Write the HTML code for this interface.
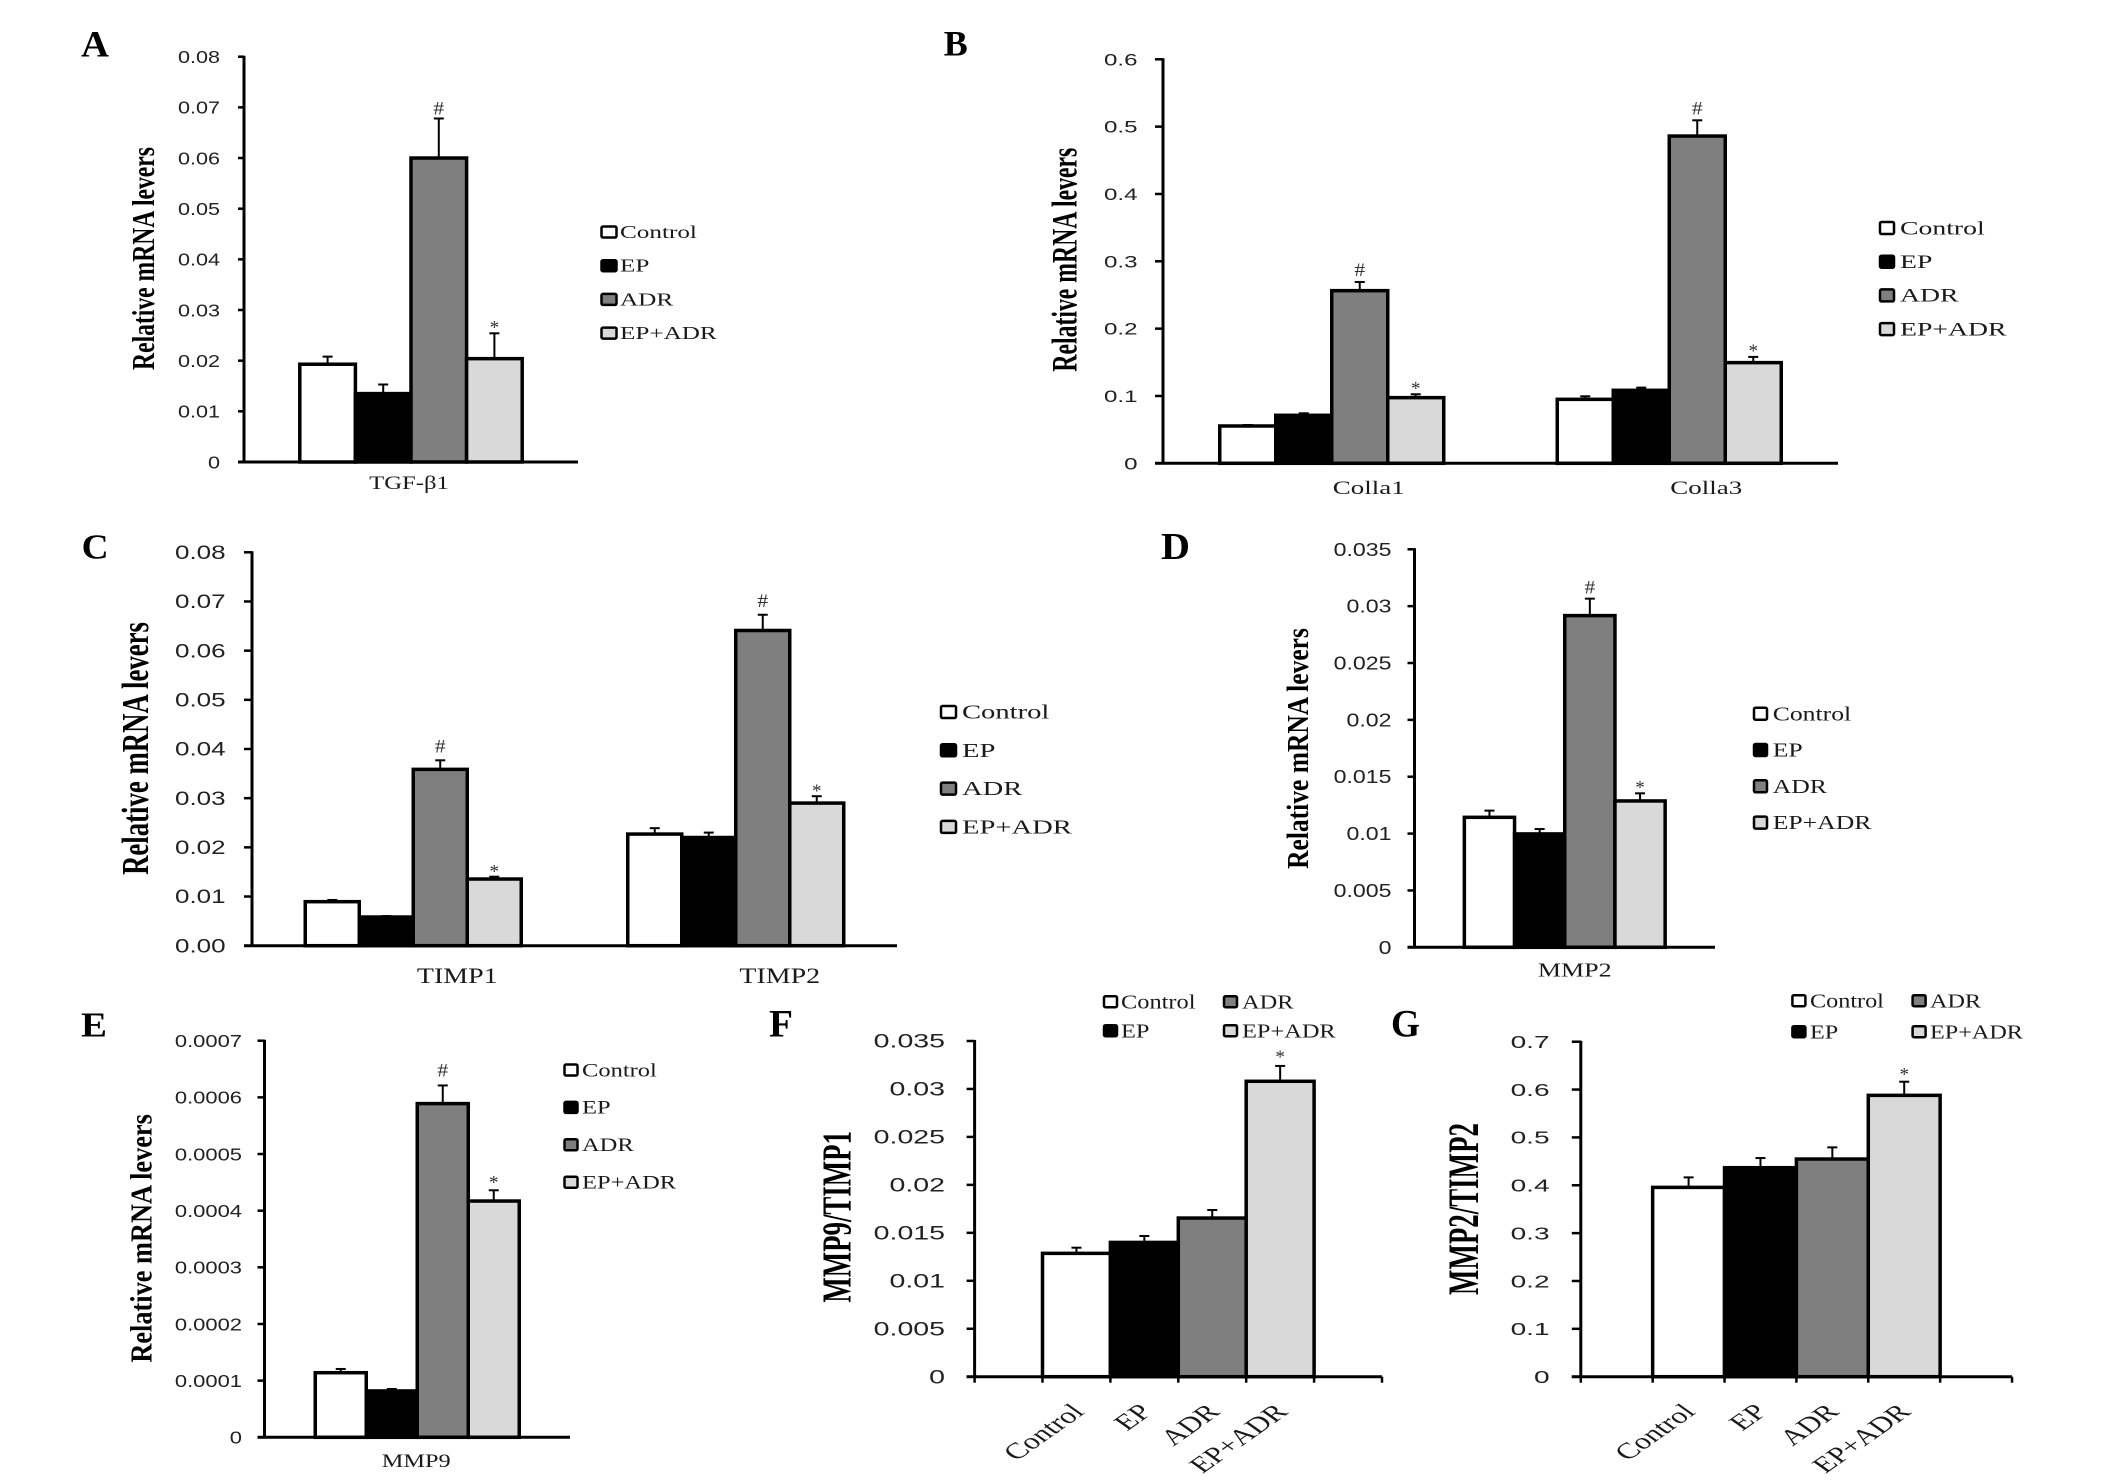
<!DOCTYPE html>
<html lang="en">
<head>
<meta charset="utf-8">
<title>Relative mRNA levels by treatment group</title>
<style>
html,body{margin:0;padding:0;background:#fff;}
svg{display:block;width:2126px;height:1482px;background:#fff;}
</style>
</head>
<body>
<svg id="figure" xmlns="http://www.w3.org/2000/svg" width="2126" height="1482" viewBox="0 0 2126 1482"></svg>
<script>
/* ---------- shared series ---------- */
const seriesNames = ['Control', 'EP', 'ADR', 'EP+ADR'];
const seriesFills = ['#ffffff', '#000000', '#7f7f7f', '#d9d9d9'];

/* ---------- panel A ---------- */
const aCategories = ['TGF-β1'];
const aTicks = ['0', '0.01', '0.02', '0.03', '0.04', '0.05', '0.06', '0.07', '0.08'];
const aValues = [0.0193, 0.0135, 0.0600, 0.0204];
const aErrors = [0.0015, 0.0018, 0.0078, 0.0050];
const aMarks = ['', '', '#', '*'];

/* ---------- panel B ---------- */
const bCategories = ['Colla1', 'Colla3'];
const bTicks = ['0', '0.1', '0.2', '0.3', '0.4', '0.5', '0.6'];
const bColla1Values = [0.0554, 0.0713, 0.2564, 0.0975];
const bColla1Errors = [0.0015, 0.0030, 0.0129, 0.0050];
const bColla1Marks = ['', '', '#', '*'];
const bColla3Values = [0.0950, 0.1084, 0.4860, 0.1495];
const bColla3Errors = [0.0045, 0.0040, 0.0234, 0.0085];
const bColla3Marks = ['', '', '#', '*'];

/* ---------- panel C ---------- */
const cCategories = ['TIMP1', 'TIMP2'];
const cTicks = ['0.00', '0.01', '0.02', '0.03', '0.04', '0.05', '0.06', '0.07', '0.08'];
const cTimp1Values = [0.00895, 0.00583, 0.03586, 0.01356];
const cTimp1Errors = [0.00035, 0.00020, 0.00184, 0.00047];
const cTimp1Marks = ['', '', '#', '*'];
const cTimp2Values = [0.0227, 0.0220, 0.0641, 0.0290];
const cTimp2Errors = [0.0012, 0.0010, 0.0032, 0.0014];
const cTimp2Marks = ['', '', '#', '*'];

/* ---------- panel D ---------- */
const dCategories = ['MMP2'];
const dTicks = ['0', '0.005', '0.01', '0.015', '0.02', '0.025', '0.03', '0.035'];
const dValues = [0.01143, 0.00997, 0.02917, 0.01287];
const dErrors = [0.00059, 0.00043, 0.00149, 0.00067];
const dMarks = ['', '', '#', '*'];

/* ---------- panel E ---------- */
const eCategories = ['MMP9'];
const eTicks = ['0', '0.0001', '0.0002', '0.0003', '0.0004', '0.0005', '0.0006', '0.0007'];
const eValues = [0.000114, 0.0000818, 0.000589, 0.000417];
const eErrors = [0.0000066, 0.0000035, 0.000032, 0.000019];
const eMarks = ['', '', '#', '*'];

/* ---------- panel F ---------- */
const fCategories = ['Control', 'EP', 'ADR', 'EP+ADR'];
const fTicks = ['0', '0.005', '0.01', '0.015', '0.02', '0.025', '0.03', '0.035'];
const fValues = [0.01286, 0.0140, 0.01654, 0.0308];
const fErrors = [0.00059, 0.00067, 0.00084, 0.0016];
const fMarks = ['', '', '', '*'];

/* ---------- panel G ---------- */
const gCategories = ['Control', 'EP', 'ADR', 'EP+ADR'];
const gTicks = ['0', '0.1', '0.2', '0.3', '0.4', '0.5', '0.6', '0.7'];
const gValues = [0.3956, 0.4367, 0.4548, 0.5879];
const gErrors = [0.0209, 0.0202, 0.0244, 0.0285];
const gMarks = ['', '', '', '*'];

/* ---------- layout only (no data) ---------- */
const panels = [
  {id:'a', letter:'A', lx:81, lb:56.5, lw:28, ls:37, hashOff:-4, starOff:0,
   x0:244, x1:578, y0:462, yTop:56.7, tickLen:6, barW:55.6,
   ticks:aTicks, tickEnd:220, tickSize:18, tickSx:1.2,
   groups:[{values:aValues, errors:aErrors, marks:aMarks}],
   categories:aCategories, catBase:489, catOff:-2, catSize:19, catSx:1.3,
   title:'Relative mRNA levers', tBase:154, tMid:258.5, tLen:223, tSize:32,
   legend:{kind:'list', sx:601.5, sw:15, sh:11, tx:620, y:232, step:33.7, size:18, scale:1.4}},
  {id:'b', letter:'B', lx:943.7, lb:55.5, lw:24, ls:36, hashOff:-6, starOff:0,
   x0:1163, x1:1838, y0:463.3, yTop:59.3, tickLen:8, barW:56,
   ticks:bTicks, tickEnd:1137.5, tickSize:17, tickSx:1.42,
   groups:[{values:bColla1Values, errors:bColla1Errors, marks:bColla1Marks},
           {values:bColla3Values, errors:bColla3Errors, marks:bColla3Marks}],
   categories:bCategories, catBase:494, catOff:37, catSize:19, catSx:1.42,
   title:'Relative mRNA levers', tBase:1076.5, tMid:259.7, tLen:224, tSize:36,
   legend:{kind:'list', sx:1880, sw:14, sh:12, tx:1900, y:228, step:33.7, size:19, scale:1.46}},
  {id:'c', letter:'C', lx:81.6, lb:558.5, lw:27, ls:35, hashOff:-8, starOff:1,
   x0:252, x1:897, y0:945.7, yTop:552.3, tickLen:8, barW:54,
   ticks:cTicks, tickEnd:225.6, tickSize:19, tickSx:1.37,
   groups:[{values:cTimp1Values, errors:cTimp1Errors, marks:cTimp1Marks},
           {values:cTimp2Values, errors:cTimp2Errors, marks:cTimp2Marks}],
   categories:cCategories, catBase:983, catOff:44, catSize:22, catSx:1.27,
   title:'Relative mRNA levers', tBase:148, tMid:748.5, tLen:253, tSize:38,
   legend:{kind:'list', sx:941, sw:15, sh:12, tx:962, y:712, step:38.3, size:20, scale:1.43}},
  {id:'d', letter:'D', lx:1161, lb:559, lw:29, ls:38, hashOff:-5, starOff:0,
   x0:1414.5, x1:1715, y0:947.3, yTop:549.3, tickLen:7, barW:50.2,
   ticks:dTicks, tickEnd:1391.5, tickSize:18.5, tickSx:1.25,
   groups:[{values:dValues, errors:dErrors, marks:dMarks}],
   categories:dCategories, catBase:976.7, catOff:10, catSize:20, catSx:1.3,
   title:'Relative mRNA levers', tBase:1308, tMid:748.5, tLen:241, tSize:31,
   legend:{kind:'list', sx:1754, sw:13, sh:12, tx:1772.7, y:713.7, step:36.3, size:20, scale:1.285}},
  {id:'e', letter:'E', lx:81, lb:1036.5, lw:26, ls:35, hashOff:-9, starOff:-2,
   x0:264.5, x1:570, y0:1437.3, yTop:1040.7, tickLen:7, barW:51,
   ticks:eTicks, tickEnd:242, tickSize:18, tickSx:1.22,
   groups:[{values:eValues, errors:eErrors, marks:eMarks}],
   categories:eCategories, catBase:1467, catOff:-1, catSize:19, catSx:1.28,
   title:'Relative mRNA levers', tBase:151.5, tMid:1238.4, tLen:248.6, tSize:31,
   legend:{kind:'list', sx:564.5, sw:13, sh:11, tx:582, y:1070, step:37.4, size:19, scale:1.29}},
  {id:'f', letter:'F', lx:769, lb:1036.5, lw:24, ls:39, hashOff:-4, starOff:-3,
   x0:974.6, x1:1382, y0:1376.7, yTop:1041, tickLen:8, barW:67.9,
   ticks:fTicks, tickEnd:945, tickSize:19, tickSx:1.5,
   groups:[{values:fValues, errors:fErrors, marks:fMarks}],
   rotated:{names:fCategories, off:9, base:1413, size:22.5, scale:1.42},
   title:'MMP9/TIMP1', tBase:850.5, tMid:1216.8, tLen:171.7, tSize:41,
   legend:{kind:'grid', sx1:1104, sx2:1224, sw:13, sh:11, tx1:1121, tx2:1242, y1:1001.7, y2:1030.7, size:20, scale:1.22}},
  {id:'g', letter:'G', lx:1391, lb:1036.5, lw:29, ls:39, hashOff:-4, starOff:-1,
   x0:1580.8, x1:2012, y0:1376.7, yTop:1041.7, tickLen:9, barW:71.87,
   ticks:gTicks, tickEnd:1549.6, tickSize:18, tickSx:1.56,
   groups:[{values:gValues, errors:gErrors, marks:gMarks}],
   rotated:{names:gCategories, off:8, base:1413, size:22.5, scale:1.42},
   title:'MMP2/TIMP2', tBase:1478, tMid:1209, tLen:172, tSize:43,
   legend:{kind:'grid', sx1:1792.4, sx2:1912.6, sw:13, sh:11, tx1:1810, tx2:1930, y1:1000.7, y2:1031.7, size:20, scale:1.21}}
];

const SERIF = '"Liberation Serif", serif';
const SANS = '"Liberation Sans", sans-serif';
const NS = 'http://www.w3.org/2000/svg';
const figure = document.getElementById('figure');

function make(tag, parent, attrs) {
  const el = document.createElementNS(NS, tag);
  for (const k in attrs) el.setAttribute(k, attrs[k]);
  parent.appendChild(el);
  return el;
}
/* text scaled horizontally by a fixed factor */
function addText(parent, str, x, y, size, family, anchor, sx, weight, fill, angle) {
  const el = make('text', parent, {
    'font-family': family, 'font-size': size, 'text-anchor': anchor,
    'font-weight': weight || 'normal', fill: fill || '#1a1a1a',
    transform: 'translate(' + x + ' ' + y + ') rotate(' + (angle || 0) + ') scale(' + sx + ' 1)'
  });
  el.textContent = str;
  return el;
}
/* text stretched to an exact target length */
function fitText(el, x, y, target, angle) {
  const measured = el.getComputedTextLength();
  el.setAttribute('transform', 'translate(' + x + ' ' + y + ') rotate(' + (angle || 0) + ') scale(' + (target / measured) + ' 1)');
}
/* axis functions */
function yScale(p, v) {
  const max = parseFloat(p.ticks[p.ticks.length - 1]);
  return p.y0 - (v / max) * (p.y0 - p.yTop);
}
function bandCenter(p, g) {
  return p.x0 + (g + 0.5) * (p.x1 - p.x0) / p.groups.length;
}
function barLeft(p, g, s) {
  return bandCenter(p, g) + (s - seriesNames.length / 2) * p.barW;
}

panels.forEach(function (p) {
  const root = make('g', figure, {});
  
  

  /* panel letter */
  const letter = addText(root, p.letter, p.lx, p.lb, p.ls, SERIF, 'start', 1, 'bold', '#000');
  
  
  fitText(letter, p.lx, p.lb, p.lw);

  /* y title */
  const title = addText(root, p.title, p.tBase, p.tMid, p.tSize, SERIF, 'middle', 1, 'bold', '#000', -90);
  
  
  fitText(title, p.tBase, p.tMid, p.tLen, -90);

  /* bars and error bars */
  p.groups.forEach(function (group, g) {
    group.values.forEach(function (val, s) {
      const left = barLeft(p, g, s);
      const mid = left + p.barW / 2;
      const top = yScale(p, val);
      const errTop = yScale(p, val + group.errors[s]);

      const stem = make('line', root, {x1: mid, x2: mid, y1: top, y2: errTop, stroke: '#000', 'stroke-width': 2});
      
      

      const cap = make('line', root, {x1: mid - 5, x2: mid + 5, y1: errTop, y2: errTop, stroke: '#000', 'stroke-width': 2});
      
      

      const bar = make('rect', root, {x: left, y: top, width: p.barW, height: p.y0 - top, fill: seriesFills[s], stroke: '#000', 'stroke-width': 3.5});
      
      

      const mark = group.marks[s];
      if (mark) {
        const isHash = mark === '#';
        const marker = addText(root, mark, mid, errTop + (isHash ? p.hashOff : p.starOff), isHash ? 19.5 : 19, SERIF, 'middle', isHash ? 1.1 : 1, 'normal', '#333');
        
        
      }
    });
  });

  /* axes */
  const yAxis = make('line', root, {x1: p.x0, x2: p.x0, y1: p.yTop - 1, y2: p.y0 + 1, stroke: '#000', 'stroke-width': 3});
  
  

  const xAxis = make('line', root, {x1: p.x0 - p.tickLen, x2: p.x1, y1: p.y0, y2: p.y0, stroke: '#000', 'stroke-width': 3});
  
  

  p.ticks.forEach(function (label) {
    const ty = yScale(p, parseFloat(label));
    const tick = make('line', root, {x1: p.x0 - p.tickLen, x2: p.x0, y1: ty, y2: ty, stroke: '#000', 'stroke-width': 2.5});
    
    

    const text = addText(root, label, p.tickEnd, ty + p.tickSize * 0.35, p.tickSize, SANS, 'end', p.tickSx, 'normal', '#222');
    
    
  });

  /* category labels */
  if (p.categories) {
    p.categories.forEach(function (cat, g) {
      const text = addText(root, cat, bandCenter(p, g) + p.catOff, p.catBase, p.catSize, SERIF, 'middle', p.catSx);
      
      
    });
  }
  if (p.rotated) {
    for (let k = 0; k <= seriesNames.length + 2; k++) {
      const tx = p.x0 + k * p.barW;
      if (tx > p.x1 + 1) break;
      const tick = make('line', root, {x1: tx, x2: tx, y1: p.y0, y2: p.y0 + 6, stroke: '#000', 'stroke-width': 2.5});
      
      
    }
    p.rotated.names.forEach(function (name, s) {
      const x = barLeft(p, 0, s) + p.barW / 2 + p.rotated.off;
      const text = make('text', root, {
        'font-family': SERIF, 'font-size': p.rotated.size, 'text-anchor': 'end', fill: '#1a1a1a',
        transform: 'translate(' + x + ' ' + p.rotated.base + ') scale(' + p.rotated.scale + ' 1) rotate(-45)'
      });
      text.textContent = name;
      
      
    });
  }

  /* legend */
  const lg = p.legend;
  const legend = make('g', root, {});
  
  
  seriesNames.forEach(function (name, s) {
    let sx, tx, cy;
    if (lg.kind === 'list') {
      sx = lg.sx; tx = lg.tx; cy = lg.y + s * lg.step;
    } else {
      sx = s < 2 ? lg.sx1 : lg.sx2;
      tx = s < 2 ? lg.tx1 : lg.tx2;
      cy = s % 2 === 0 ? lg.y1 : lg.y2;
    }
    const swatch = make('rect', legend, {x: sx, y: cy - lg.sh / 2, width: lg.sw, height: lg.sh, rx: 1.5, fill: seriesFills[s], stroke: '#000', 'stroke-width': 2.5});
    
    

    const text = addText(legend, name, tx, cy + lg.size * 0.33, lg.size, SERIF, 'start', lg.scale);
    
    
  });
});
</script>
</body>
</html>
